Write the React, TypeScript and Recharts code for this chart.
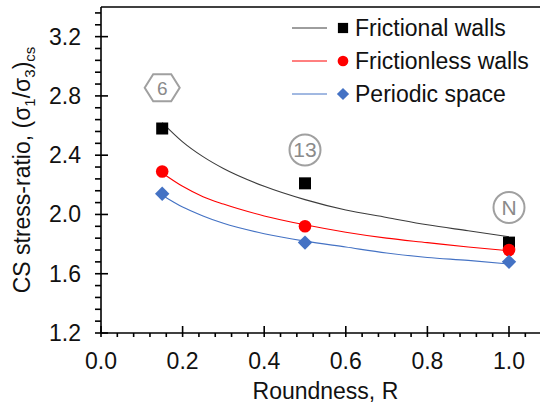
import React from 'react';
import {
  ComposedChart,
  Line,
  Scatter,
  XAxis,
  YAxis,
  ReferenceLine,
  ReferenceDot,
  Legend,
} from 'recharts';

// ---- measured data points ----
const roundness = [0.15, 0.5, 1.0];
const frictionalWalls = [2.58, 2.21, 1.81];
const frictionlessWalls = [2.29, 1.92, 1.76];
const periodicSpace = [2.14, 1.81, 1.68];

// ---- trend curves ----
const fitR = [0.15, 0.2, 0.25, 0.3, 0.4, 0.5, 0.6, 0.7, 0.8, 0.9, 1.0];
const frictionalFit = [2.62, 2.49, 2.39, 2.31, 2.19, 2.1, 2.03, 1.98, 1.93, 1.89, 1.85];
const frictionlessFit = [2.28, 2.19, 2.12, 2.07, 1.99, 1.93, 1.88, 1.84, 1.81, 1.78, 1.755];
const periodicFit = [2.13, 2.05, 1.99, 1.94, 1.87, 1.82, 1.78, 1.74, 1.71, 1.69, 1.665];

// ---- series meta ----
const seriesNames = ['Frictional walls', 'Frictionless walls', 'Periodic space'];
const markerColors = ['#000000', '#ff0000', '#4472c4'];
const lineColors = ['#3c3c3c', '#ff0000', '#4472c4'];
const markerShapes = ['square', 'circle', 'diamond'];

// ---- annotations ----
const annotationLabels = ['6', '13', 'N'];
const annotationShapes = ['hexagon', 'circle', 'circle'];
const annotationR = [0.15, 0.5, 1.0];
const annotationY = [2.855, 2.435, 2.047];

// ---- axes ----
const xTicks = [0, 0.04, 0.08, 0.12, 0.16, 0.2, 0.24, 0.28, 0.32, 0.36, 0.4, 0.44, 0.48, 0.52, 0.56, 0.6, 0.64, 0.68, 0.72, 0.76, 0.8, 0.84, 0.88, 0.92, 0.96, 1.0, 1.04, 1.08];
const yTicks = [1.2, 1.28, 1.36, 1.44, 1.52, 1.6, 1.68, 1.76, 1.84, 1.92, 2.0, 2.08, 2.16, 2.24, 2.32, 2.4, 2.48, 2.56, 2.64, 2.72, 2.8, 2.88, 2.96, 3.04, 3.12, 3.2, 3.28, 3.36];
const xDomain = [0, 1.1];
const yDomain = [1.2, 3.4];
const xLabel = 'Roundness, R';

const FONT = '"Liberation Sans", Arial, sans-serif';
const FS = 23;
const TEXT = '#111111';
const ANNOT = '#a0a0a0';

const toPoints = (xs: number[], ys: number[]) => xs.map((x, i) => ({ x, y: ys[i] }));
const pointSets = [frictionalWalls, frictionlessWalls, periodicSpace].map((ys) => toPoints(roundness, ys));
const fitSets = [frictionalFit, frictionlessFit, periodicFit].map((ys) => toPoints(fitR, ys));

const Marker = ({ cx, cy, shape, color, s = 1 }: any) => {
  if (cx == null || cy == null) return null;
  if (shape === 'square') {
    const h = 6 * s;
    return <rect x={cx - h} y={cy - h} width={2 * h} height={2 * h} fill={color} />;
  }
  if (shape === 'circle') {
    return <circle cx={cx} cy={cy} r={6.3 * s} fill={color} />;
  }
  const d = 7.2 * s;
  return (
    <polygon
      points={`${cx},${cy - d} ${cx + d},${cy} ${cx},${cy + d} ${cx - d},${cy}`}
      fill={color}
    />
  );
};

const isMajorX = (v: number) => Math.abs(v / 0.2 - Math.round(v / 0.2)) < 1e-6;
const isMajorY = (v: number) => Math.abs((v - 1.2) / 0.4 - Math.round((v - 1.2) / 0.4)) < 1e-6;

const XTick = (props: any) => {
  const { x, y, payload } = props;
  const v = payload.value;
  const major = isMajorX(v);
  return (
    <g>
      <line x1={x} x2={x} y1={major ? y - 7 : y} y2={y + 4} stroke="#000" strokeWidth={1.6} />
      {major && (
        <text x={x} y={y + 36} textAnchor="middle" fontSize={FS} fontFamily={FONT} fill={TEXT}>
          {v.toFixed(1)}
        </text>
      )}
    </g>
  );
};

const YTick = (props: any) => {
  const { x, y, payload } = props;
  const v = payload.value;
  const major = isMajorY(v);
  return (
    <g>
      <line x1={x - 6} x2={major ? x + 7 : x} y1={y} y2={y} stroke="#000" strokeWidth={1.6} />
      {major && (
        <text x={x - 20} y={y + 8} textAnchor="end" fontSize={FS} fontFamily={FONT} fill={TEXT}>
          {v.toFixed(1)}
        </text>
      )}
    </g>
  );
};

const YLabel = (props: any) => {
  const vb = props.viewBox || { x: 0, y: 7, width: 101, height: 326 };
  const cy = vb.y + vb.height / 2;
  const bx = vb.x + 30;
  return (
    <text
      transform={`translate(${bx}, ${cy}) rotate(-90)`}
      textAnchor="middle"
      fontSize={FS}
      fontFamily={FONT}
      fill={TEXT}
    >
      <tspan>CS stress-ratio, (σ</tspan>
      <tspan fontSize={15} dy={5}>1</tspan>
      <tspan dy={-5}>/σ</tspan>
      <tspan fontSize={15} dy={5}>3</tspan>
      <tspan dy={-5}>)</tspan>
      <tspan fontSize={15} dy={5}>cs</tspan>
    </text>
  );
};

const XLabel = (props: any) => {
  const vb = props.viewBox || { x: 101, y: 333, width: 449, height: 73 };
  return (
    <text
      x={vb.x + vb.width / 2}
      y={vb.y + 66}
      textAnchor="middle"
      fontSize={FS}
      fontFamily={FONT}
      fill={TEXT}
    >
      {xLabel}
    </text>
  );
};

const annotationShape = (kind: string, label: string) => (props: any) => {
  const { cx, cy } = props;
  if (cx == null || cy == null) return <g />;
  if (kind === 'hexagon') {
    const w = 17.5;
    const t = 9;
    const h = 13.5;
    return (
      <g>
        <polygon
          points={`${cx - w},${cy} ${cx - t},${cy - h} ${cx + t},${cy - h} ${cx + w},${cy} ${cx + t},${cy + h} ${cx - t},${cy + h}`}
          fill="none"
          stroke={ANNOT}
          strokeWidth={2}
        />
        <text x={cx} y={cy + 7} textAnchor="middle" fontSize={19} fontFamily={FONT} fill="#8a8a8a">
          {label}
        </text>
      </g>
    );
  }
  return (
    <g>
      <circle cx={cx} cy={cy} r={15.5} fill="none" stroke={ANNOT} strokeWidth={2} />
      <text x={cx} y={cy + 7.5} textAnchor="middle" fontSize={21} fontFamily={FONT} fill="#8a8a8a">
        {label}
      </text>
    </g>
  );
};

const LegendContent = () => (
  <svg width={250} height={100} style={{ display: 'block' }}>
    {seriesNames.map((name, i) => {
      const cy = 18 + i * 33;
      return (
        <g key={name}>
          <line x1={7} x2={42} y1={cy} y2={cy} stroke={lineColors[i]} strokeWidth={1} />
          <Marker cx={58} cy={cy} shape={markerShapes[i]} color={markerColors[i]} s={0.85} />
          <text x={70} y={cy + 8} fontSize={FS} fontFamily={FONT} fill={TEXT}>
            {name}
          </text>
        </g>
      );
    })}
  </svg>
);

export default function App() {
  return (
    <div
      style={{
        position: 'absolute',
        left: 0,
        top: 0,
        width: 540,
        height: 406,
        overflow: 'hidden',
        background: '#ffffff',
      }}
    >
      <ComposedChart
        width={560}
        height={406}
        margin={{ top: 7, right: 10.2, bottom: 0, left: 0 }}
      >
        <XAxis
          type="number"
          dataKey="x"
          domain={xDomain}
          ticks={xTicks}
          interval={0}
          tickSize={0}
          tickMargin={0}
          tickLine={false}
          tick={<XTick />}
          axisLine={{ stroke: '#000', strokeWidth: 1.6 }}
          height={73}
          allowDataOverflow
          label={<XLabel />}
        />
        <YAxis
          type="number"
          dataKey="y"
          domain={yDomain}
          ticks={yTicks}
          interval={0}
          tickSize={0}
          tickMargin={0}
          tickLine={false}
          tick={<YTick />}
          axisLine={{ stroke: '#000', strokeWidth: 1.6 }}
          width={101}
          allowDataOverflow
          label={<YLabel />}
        />
        <ReferenceLine y={3.4} stroke="#000" strokeWidth={1.6} />
        {fitSets.map((d, i) => (
          <Line
            key={`fit-${i}`}
            data={d}
            dataKey="y"
            type="monotone"
            dot={false}
            activeDot={false}
            stroke={lineColors[i]}
            strokeWidth={1.1}
            isAnimationActive={false}
            legendType="none"
          />
        ))}
        {pointSets.map((d, i) => (
          <Scatter
            key={`pts-${i}`}
            name={seriesNames[i]}
            data={d}
            dataKey="y"
            fill={markerColors[i]}
            isAnimationActive={false}
            shape={(p: any) => <Marker cx={p.cx} cy={p.cy} shape={markerShapes[i]} color={markerColors[i]} />}
          />
        ))}
        {annotationLabels.map((lab, i) => (
          <ReferenceDot
            key={`ann-${i}`}
            x={annotationR[i]}
            y={annotationY[i]}
            r={15}
            shape={annotationShape(annotationShapes[i], lab)}
          />
        ))}
        <Legend
          layout="vertical"
          align="center"
          verticalAlign="middle"
          content={<LegendContent />}
          wrapperStyle={{ position: 'absolute', left: 285, top: 10, width: 250, height: 100 }}
        />
      </ComposedChart>
    </div>
  );
}
